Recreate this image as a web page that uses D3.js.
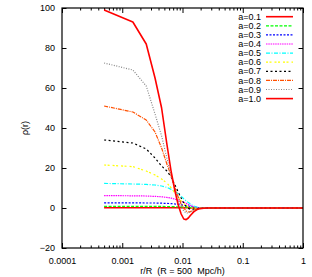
<!DOCTYPE html>
<html><head><meta charset="utf-8">
<script src="https://cdn.jsdelivr.net/npm/d3@7"></script>
<style>html,body{margin:0;padding:0;background:#fff;}svg{display:block;font-family:"Liberation Sans",Arial,sans-serif;}</style>
</head><body><svg id="c" width="312" height="277"></svg>
<script>
const rValues = [0.0005,0.0015,0.0025,0.0035,0.0045,0.0055,0.0065,0.0075,0.0085,0.0095,0.0105,0.0115,0.0125,0.0135,0.0145,0.0155,0.0175,0.0195,0.0225,0.0255,0.03,0.1,1];
const seriesNames = ["a=0.1","a=0.2","a=0.3","a=0.4","a=0.5","a=0.6","a=0.7","a=0.8","a=0.9","a=1.0"];
const rho01 = [0.1,0.1,0.1,0.1,0.1,0.1,0.1,0.1,0.1,0.1,0.1,0.1,0.1,0.05,0.05,0.05,0,0,0,0,0,0,0];
const rho02 = [0.8,0.8,0.8,0.8,0.8,0.75,0.7,0.65,0.6,0.55,0.5,0.4,0.35,0.3,0.25,0.2,0.15,0.1,0,0,0,0,0];
const rho03 = [2.6,2.6,2.5,2.5,2.4,2.3,2.2,2.0,1.8,1.6,1.4,1.2,1.0,0.8,0.6,0.5,0.3,0.1,0,0,0,0,0];
const rho04 = [6.2,6.1,6.0,5.8,5.6,5.3,4.9,4.4,3.9,3.4,2.8,2.3,1.8,1.4,1.0,0.7,0.3,0.1,0,0,0,0,0];
const rho05 = [12.3,12.0,11.8,11.5,11.0,10.3,9.3,8.3,7.0,5.8,4.6,3.6,2.7,2.0,1.4,1.0,0.4,0.1,0,0,0,0,0];
const rho06 = [21.5,20.7,18.5,16.5,14.5,12.5,10.0,7.5,5.5,3.5,2.3,1.3,0.6,0.2,0,-0.1,-0.1,0,0,0,0,0,0];
const rho07 = [34,32.5,29.5,25,21,18.5,15.5,11.5,8,5,2.5,0.8,-0.2,-0.6,-0.7,-0.6,-0.4,-0.2,-0.1,0,0,0,0];
const rho08 = [51,48,44,38,30,22,16,10,5.5,2,0,-1.5,-2,-1.8,-1.4,-1,-0.5,-0.2,0,0,0,0,0];
const rho09 = [72.5,69,61,47,36,25,16,9,4,0.5,-1.5,-2.5,-2.5,-2,-1.5,-1,-0.5,-0.2,0,0,0,0,0];
const rho10 = [99,93,82,65,50,32,18,8.5,1.5,-3,-5.5,-5.8,-5,-3.8,-2.7,-1.8,-0.8,-0.3,-0.1,0,0,0,0];
const seriesValues = [rho01,rho02,rho03,rho04,rho05,rho06,rho07,rho08,rho09,rho10];
const seriesColors = ["#ff0000","#00ff00","#0000ff","#ff00ff","#00ffff","#ffff00","#000000","#ff5000","#888888","#ff0000"];
const seriesDash = [null,"3,1.5","2,1.5","1.5,0.8","4,1.5,1,1.5","2,1.5,2,3","2,2.5","4,1,1,1","1,1.5",null];
const xMajorTicks = [0.0001,0.001,0.01,0.1,1];
const xTickLabels = ["0.0001","0.001","0.01","0.1","1"];
const yTicks = [-20,0,20,40,60,80,100];
const xLabel = "r/R  (R = 500  Mpc/h)";
const yLabel = "ρ(r)";

const L=62,R=303,T=8,B=248;
const svg=d3.select("#c");
const x=d3.scaleLog().domain([0.0001,1]).range([L,R]);
const y=d3.scaleLinear().domain([-20,100]).range([B,T]);

svg.append("defs").append("clipPath").attr("id","clip").append("rect")
  .attr("x",L).attr("y",T).attr("width",R-L).attr("height",B-T);

const minor=x.ticks().filter(v=>!xMajorTicks.some(m=>Math.abs(m-v)/m<1e-6));
function styleAxis(g){g.select(".domain").remove();g.selectAll("line").attr("stroke","#000");g.selectAll("text").attr("fill","#000").style("font-size","9px").style("font-family","Liberation Sans, Arial, sans-serif");}
svg.append("g").attr("transform",`translate(0,${B})`)
  .call(d3.axisBottom(x).tickValues(xMajorTicks).tickFormat((d,i)=>xTickLabels[i]).tickSizeInner(-5).tickSizeOuter(0).tickPadding(10)).call(styleAxis);
svg.append("g").attr("transform",`translate(0,${B})`)
  .call(d3.axisBottom(x).tickValues(minor).tickFormat("").tickSizeInner(-2.5).tickSizeOuter(0)).call(styleAxis);
svg.append("g").attr("transform",`translate(0,${T})`)
  .call(d3.axisTop(x).tickValues(xMajorTicks).tickFormat("").tickSizeInner(-5).tickSizeOuter(0)).call(styleAxis);
svg.append("g").attr("transform",`translate(0,${T})`)
  .call(d3.axisTop(x).tickValues(minor).tickFormat("").tickSizeInner(-2.5).tickSizeOuter(0)).call(styleAxis);
svg.append("g").attr("transform",`translate(${L},0)`)
  .call(d3.axisLeft(y).tickValues(yTicks).tickFormat(d3.format("d")).tickSizeInner(-4.5).tickSizeOuter(0).tickPadding(7)).call(styleAxis);
svg.append("g").attr("transform",`translate(${R},0)`)
  .call(d3.axisRight(y).tickValues(yTicks).tickFormat("").tickSizeInner(-4.5).tickSizeOuter(0)).call(styleAxis);

const line=d3.line().x((d,i)=>x(rValues[i])).y(d=>y(d));
const lines=svg.append("g").attr("clip-path","url(#clip)");
seriesValues.forEach((vals,k)=>{
  lines.append("path").datum(vals).attr("d",line).attr("fill","none")
    .attr("stroke",seriesColors[k]).attr("stroke-width",k===9||k===0?1.6:1.2)
    .attr("stroke-dasharray",seriesDash[k]).attr("stroke-linejoin","round");
});

svg.append("rect").attr("x",L).attr("y",T).attr("width",R-L).attr("height",B-T)
  .attr("fill","none").attr("stroke","#000").attr("stroke-width",1.2);

const lg=svg.append("g");
seriesNames.forEach((n,k)=>{
  const yy=16.7+k*9.1;
  lg.append("text").attr("x",261).attr("y",yy).attr("dy","0.35em").attr("text-anchor","end")
    .style("font-size","9px").attr("fill","#000").text(n);
  lg.append("line").attr("x1",266).attr("x2",293).attr("y1",yy).attr("y2",yy)
    .attr("stroke",seriesColors[k]).attr("stroke-width",k===9||k===0?1.6:1.2)
    .attr("stroke-dasharray",seriesDash[k]);
});

svg.append("text").attr("x",(L+R)/2).attr("y",274).attr("text-anchor","middle")
  .style("font-size","9px").style("white-space","pre").attr("xml:space","preserve").attr("fill","#000").text(xLabel);
svg.append("text").attr("transform",`translate(28,${(T+B)/2}) rotate(-90)`).attr("text-anchor","middle")
  .style("font-size","9px").attr("fill","#000").text(yLabel);
</script></body></html>
